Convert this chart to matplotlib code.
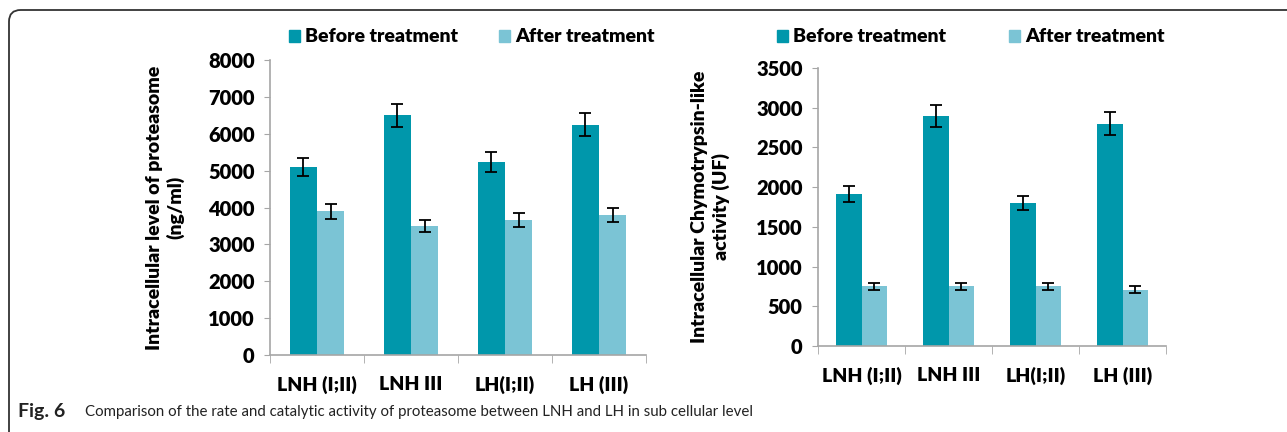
import numpy as np
import matplotlib.pyplot as plt
from matplotlib.patches import FancyBboxPatch, Rectangle

plt.rcParams['font.family'] = ['Lato', 'DejaVu Sans']

groups = ["LNH (I;II)", "LNH III", "LH(I;II)", "LH (III)"]

# proteasome level (ng/ml)
prot_before = [5100, 6500, 5230, 6250]
prot_before_err = [250, 320, 270, 320]
prot_after = [3900, 3500, 3650, 3800]
prot_after_err = [200, 170, 190, 200]

# chymotrypsin-like activity (UF)
chy_before = [1910, 2900, 1800, 2800]
chy_before_err = [100, 140, 90, 140]
chy_after = [750, 750, 750, 710]
chy_after_err = [40, 40, 40, 40]

c_before = "#0097AB"
c_after = "#7BC4D5"
grey = "#A6A6A6"
W = "heavy"

fig = plt.figure(figsize=(12.87, 4.32), dpi=100)

# rounded frame (top + left edge only visible)
frame = FancyBboxPatch((9 / 1287, -0.2), 1.2, 1.2 - 10 / 432,
                       boxstyle="round,pad=0,rounding_size=0.009",
                       transform=fig.transFigure, fill=False,
                       edgecolor="#333333", linewidth=1.3, mutation_aspect=1287 / 432)
fig.patches.append(frame)


def draw(ax, before, berr, after, aerr, ymax, step, ylabel, lpad):
    x = np.arange(len(groups))
    w = 0.29
    ax.bar(x - w / 2, before, w, color=c_before, zorder=2)
    ax.bar(x + w / 2, after, w, color=c_after, zorder=2)
    ax.errorbar(x - w / 2, before, yerr=berr, fmt="none", ecolor="black",
                elinewidth=1.3, capsize=4, capthick=1.3, zorder=3)
    ax.errorbar(x + w / 2, after, yerr=aerr, fmt="none", ecolor="black",
                elinewidth=1.3, capsize=4, capthick=1.3, zorder=3)
    ax.set_xlim(-0.5, len(groups) - 0.5)
    ax.set_ylim(0, ymax)
    ax.set_yticks(np.arange(0, ymax + 1, step))
    ax.set_xticks(x)
    ax.set_xticklabels(groups, fontsize=14, fontweight=W)
    ax.set_xticks(np.arange(-0.5, len(groups), 1), minor=True)
    ax.tick_params(axis="x", which="major", length=0, pad=15)
    ax.tick_params(axis="x", which="minor", length=6, color=grey, direction="out")
    ax.tick_params(axis="y", length=4, color=grey, pad=7)
    for lab in ax.get_yticklabels():
        lab.set_fontweight(W)
        lab.set_fontsize(14.5)
    for s in ["top", "right"]:
        ax.spines[s].set_visible(False)
    for s in ["left", "bottom"]:
        ax.spines[s].set_color(grey)
        ax.spines[s].set_linewidth(1.2)
    ax.set_ylabel(ylabel, fontsize=14, fontweight=W, linespacing=1.25, labelpad=lpad)


ax1 = fig.add_axes([270 / 1287, 1 - 355 / 432, 376 / 1287, 295 / 432])
draw(ax1, prot_before, prot_before_err, prot_after, prot_after_err, 8000, 1000,
     "Intracellular level of proteasome\n(ng/ml)", 17)

ax2 = fig.add_axes([818 / 1287, 1 - 346 / 432, 348 / 1287, 278 / 432])
draw(ax2, chy_before, chy_before_err, chy_after, chy_after_err, 3500, 500,
     "Intracellular Chymotrypsin-like\nactivity (UF)", 19)


def legend(x0, x1):
    for xs, col, txt in [(x0, c_before, "Before treatment"), (x1, c_after, "After treatment")]:
        fig.patches.append(Rectangle((xs / 1287, 1 - 42 / 432), 11 / 1287, 12 / 432,
                                     transform=fig.transFigure, color=col))
        fig.text((xs + 16) / 1287, 1 - 36 / 432, txt, fontsize=14,
                 fontweight=W, va="center", ha="left")


legend(289, 499)
legend(777, 1009)

fig.text(18 / 1287, 1 - 412 / 432, "Fig. 6", fontsize=14, fontweight="bold",
         va="center", ha="left", color="#222222")
fig.text(85 / 1287, 1 - 412 / 432,
         "Comparison of the rate and catalytic activity of proteasome between LNH and LH in sub cellular level",
         fontsize=10.8, va="center", ha="left", color="#222222")

fig.savefig("out.png", dpi=100)
